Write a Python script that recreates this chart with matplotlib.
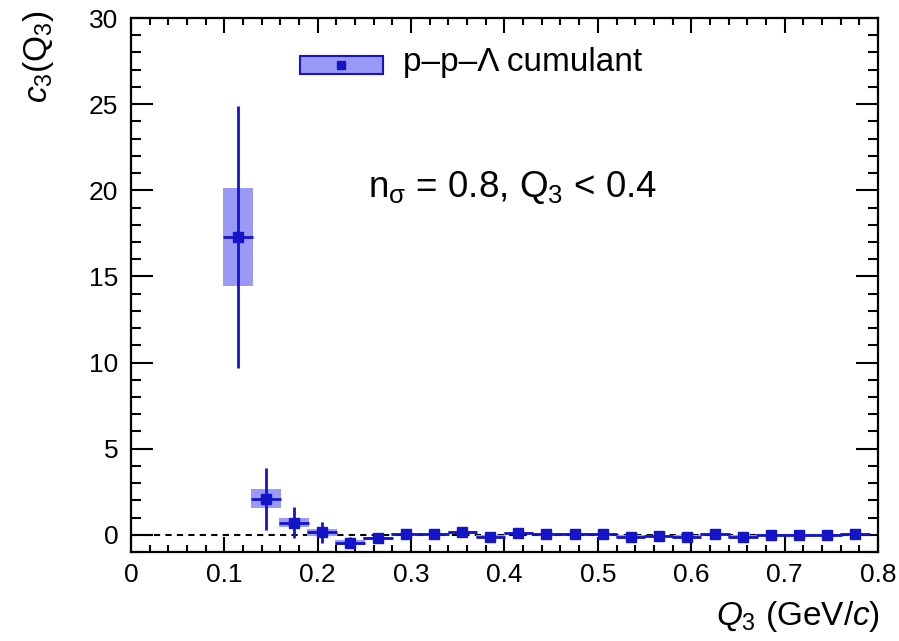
import matplotlib.pyplot as plt
import matplotlib.patches as mpatches
from matplotlib.ticker import MultipleLocator
from matplotlib.legend_handler import HandlerBase
import numpy as np

plt.rcParams['font.family'] = ['Liberation Sans', 'DejaVu Sans']
plt.rcParams['mathtext.fontset'] = 'custom'
plt.rcParams['mathtext.rm'] = 'Liberation Sans'
plt.rcParams['mathtext.it'] = 'Liberation Sans:italic'

# data
q3 = [0.115, 0.145, 0.175, 0.205, 0.235, 0.265, 0.295, 0.325, 0.355, 0.385,
      0.415, 0.445, 0.475, 0.505, 0.535, 0.565, 0.595, 0.625, 0.655, 0.685,
      0.715, 0.745, 0.775]
c3 = [17.3, 2.1, 0.7, 0.15, -0.45, -0.2, 0.05, 0.05, 0.15, -0.1,
      0.1, 0.05, 0.05, 0.05, -0.1, -0.05, -0.1, 0.05, -0.1, 0.0,
      0.0, 0.0, 0.05]
stat_err = [7.6, 1.8, 0.9, 0.6, 0.3, 0.15, 0.1, 0.1, 0.1, 0.1,
            0.1, 0.08, 0.08, 0.08, 0.08, 0.08, 0.08, 0.08, 0.08, 0.08,
            0.08, 0.08, 0.08]
sys_err = [2.85, 0.55, 0.25, 0.2, 0.15, 0.1, 0.08, 0.08, 0.08, 0.08,
           0.08, 0.06, 0.06, 0.06, 0.06, 0.06, 0.06, 0.06, 0.06, 0.06,
           0.06, 0.06, 0.06]
half_bin = 0.016

line_col = "#1414c8"
box_col = "#9a9af6"

fig = plt.figure(figsize=(8.99, 6.41), dpi=100)
ax = fig.add_axes([0.1457, 0.1388, 0.8309, 0.8331])

for x, y, s in zip(q3, c3, sys_err):
    ax.add_patch(mpatches.Rectangle((x - half_bin, y - s), 2 * half_bin, 2 * s,
                                    facecolor=box_col, edgecolor="none", zorder=2))

ax.axhline(0, color="black", linestyle=(0, (3, 2.5)), linewidth=1.5, zorder=1)
ax.errorbar(q3, c3, yerr=stat_err, xerr=half_bin, fmt="s", color=line_col,
            markersize=7.5, elinewidth=2, capsize=0, zorder=3)

ax.set_xlim(0, 0.8)
ax.set_ylim(-1, 30)
ax.xaxis.set_minor_locator(MultipleLocator(0.02))
ax.yaxis.set_major_locator(MultipleLocator(5))
ax.yaxis.set_minor_locator(MultipleLocator(1))
ax.set_xticks(np.arange(0, 0.81, 0.1))
ax.set_xticklabels(["0", "0.1", "0.2", "0.3", "0.4", "0.5", "0.6", "0.7", "0.8"])
ax.tick_params(which="both", direction="in", top=True, right=True, width=1.5,
               labelsize=19)
ax.tick_params(axis="x", which="major", length=11, pad=8)
ax.tick_params(axis="x", which="minor", length=5)
ax.tick_params(axis="y", which="major", length=16, pad=9)
ax.tick_params(axis="y", which="minor", length=7)
for sp in ax.spines.values():
    sp.set_linewidth(1.6)

ax.set_xlabel(r"$\it{Q}_{\rm{3}}$ (GeV/$\it{c}$)", fontsize=24, loc="right")
ax.xaxis.set_label_coords(1.003, -0.088)
ax.set_ylabel(r"$\it{c}_{\rm{3}}(\rm{Q}_{\rm{3}})$", fontsize=24, loc="top")
ax.yaxis.set_label_coords(-0.10, 1.015)

ax.text(0.254, 19.6, r"n$_{\rm σ}$ = 0.8, Q$_{\rm 3}$ < 0.4", fontsize=26.5,
        va="baseline")


class BoxHandler(HandlerBase):
    def create_artists(self, legend, orig, xd, yd, w, h, fontsize, trans):
        r = mpatches.Rectangle((xd, yd), w, h, facecolor=box_col,
                               edgecolor=line_col, linewidth=1.5, transform=trans)
        m = plt.Line2D([xd + w / 2], [yd + h / 2], marker="s", color=line_col,
                       markersize=6, linestyle="none", transform=trans)
        return [r, m]


ax.legend([mpatches.Rectangle((0, 0), 1, 1)], ["p\u2013p\u2013\u039b cumulant"],
          handler_map={mpatches.Rectangle: BoxHandler()},
          loc="center left", bbox_to_anchor=(0.226, 0.916), frameon=False,
          borderpad=0, borderaxespad=0, fontsize=24,
          handlelength=2.5, handleheight=0.45, handletextpad=0.6)

fig.savefig("out.png", dpi=100)
